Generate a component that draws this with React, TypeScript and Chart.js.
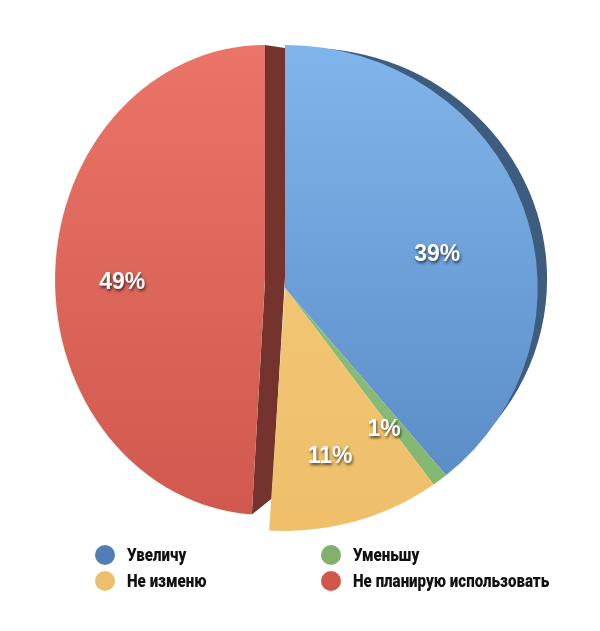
import React, { useEffect, useRef } from "react";
import { Chart, registerables } from "chart.js";

Chart.register(...registerables);

const categories = ["Увеличу", "Уменьшу", "Не изменю", "Не планирую использовать"];
const values = [39, 1, 11, 49];
const pctLabels = ["39%", "1%", "11%", "49%"];

// styling
const faceTop = ["#80b5eb", "#93c583", "#f5cb7c", "#ea7468"];
const faceBottom = ["#5687c2", "#82b56f", "#efbf6a", "#d0584e"];
const legendColors = ["#4f7fb5", "#82b06f", "#ecc06a", "#d1574c"];
const explodeX = [0, 0, 0, -20];
const explodeY = [0, 0, 0, -8];
const scaleX = [1.04, 1.04, 1.04, 0.864];
const scaleY = [1, 1, 1, 0.967];
const labelShiftY = [19, 19, 19, 8];
const RIM_COLOR = "#3d5c7e";
const SIDE_COLOR = "#74342d";

function geom(arc: any, i: number) {
  const p = arc.getProps(["x", "y", "startAngle", "endAngle", "outerRadius"], true);
  const px = p.x + explodeX[i];
  const py = p.y + explodeY[i];
  const sx = scaleX[i];
  const sy = scaleY[i];
  const toScreen = (x: number, y: number) => [px + sx * (x - p.x), py + sy * (y - p.y)];
  return { ...p, px, py, sx, sy, toScreen };
}

const pieDrawPlugin = {
  id: "pieDraw",
  beforeDatasetDraw(chart: any, args: any) {
    if (args.index !== 0) return;
    const ctx = chart.ctx;
    const meta = chart.getDatasetMeta(0);
    const arcs = meta.data;
    const gs = arcs.map((a: any, i: number) => geom(a, i));

    const applyT = (g: any) => {
      ctx.translate(g.px, g.py);
      ctx.scale(g.sx, g.sy);
      ctx.translate(-g.x, -g.y);
    };

    // blue rim (3D thickness)
    {
      const g = gs[0];
      ctx.save();
      applyT(g);
      const cx = g.x + 21;
      const cy = g.y - 9;
      ctx.beginPath();
      ctx.moveTo(cx, cy);
      ctx.arc(cx, cy, g.outerRadius - 12, g.startAngle, g.endAngle);
      ctx.closePath();
      ctx.fillStyle = RIM_COLOR;
      ctx.fill();
      ctx.restore();
    }

    // red side face
    {
      const g = gs[3];
      const A = g.toScreen(g.x + g.outerRadius * Math.cos(g.endAngle), g.y + g.outerRadius * Math.sin(g.endAngle));
      const C = g.toScreen(g.x, g.y);
      const B = g.toScreen(g.x + g.outerRadius * Math.cos(g.startAngle), g.y + g.outerRadius * Math.sin(g.startAngle));
      ctx.save();
      ctx.beginPath();
      ctx.moveTo(A[0], A[1]);
      ctx.lineTo(C[0], C[1]);
      ctx.lineTo(B[0], B[1]);
      ctx.lineTo(B[0] + 20, B[1] - 16);
      ctx.lineTo(C[0] + 20, C[1] - 3);
      ctx.lineTo(A[0] + 20, A[1] + 3);
      ctx.closePath();
      ctx.fillStyle = SIDE_COLOR;
      ctx.fill();
      ctx.restore();
    }

    // faces
    arcs.forEach((arc: any, i: number) => {
      ctx.save();
      applyT(gs[i]);
      arc.draw(ctx);
      ctx.restore();
    });

    // percentage labels
    ctx.save();
    ctx.font = "bold 23px 'Liberation Sans', Arial, sans-serif";
    ctx.textAlign = "center";
    ctx.textBaseline = "middle";
    ctx.fillStyle = "#ffffff";
    ctx.shadowColor = "rgba(0,0,0,0.65)";
    ctx.shadowBlur = 3;
    ctx.shadowOffsetX = 1;
    ctx.shadowOffsetY = 2;
    gs.forEach((g: any, i: number) => {
      const mid = (g.startAngle + g.endAngle) / 2;
      const r = g.outerRadius * (i === 3 ? 0.68 : 0.64);
      const [x, y] = g.toScreen(g.x + Math.cos(mid) * r, g.y + Math.sin(mid) * r);
      ctx.fillText(pctLabels[i], x, y + labelShiftY[i]);
    });
    ctx.restore();
    return false;
  },
};

const legendPlugin = {
  id: "customLegend",
  afterDraw(chart: any) {
    const ctx = chart.ctx;
    const colX = [97, 323];
    const rowY = [547, 573];
    ctx.save();
    ctx.font = "900 18px Roboto, 'Liberation Sans', sans-serif";
    ctx.textBaseline = "middle";
    ctx.textAlign = "left";
    categories.forEach((c, i) => {
      const col = i % 2;
      const row = Math.floor(i / 2);
      const x = colX[col];
      const y = rowY[row];
      ctx.beginPath();
      ctx.arc(x, y, 10, 0, Math.PI * 2);
      ctx.fillStyle = legendColors[i];
      ctx.fill();
      ctx.save();
      ctx.translate(x + 22, y + 1);
      ctx.scale(0.84, 1);
      ctx.fillStyle = "#111111";
      ctx.fillText(c, 0, 0);
      ctx.restore();
    });
    ctx.restore();
  },
};

export default function App() {
  const ref = useRef<HTMLCanvasElement | null>(null);
  useEffect(() => {
    if (!ref.current) return;
    const chart = new Chart(ref.current, {
      type: "pie",
      data: {
        labels: categories,
        datasets: [
          {
            data: values,
            backgroundColor: (c: any) => {
              const i = c.dataIndex;
              const ch = c.chart;
              const area = ch.chartArea;
              if (!area) return faceTop[i];
              const g = ch.ctx.createLinearGradient(0, 40, 0, 530);
              g.addColorStop(0, faceTop[i]);
              g.addColorStop(1, faceBottom[i]);
              return g;
            },
            borderWidth: 0,
          },
        ],
      },
      options: {
        animation: false,
        responsive: true,
        maintainAspectRatio: false,
        radius: 243,
        layout: { padding: { left: 0, right: 30, top: 0, bottom: 55 } },
        plugins: {
          legend: { display: false },
          tooltip: { enabled: false },
        },
      },
      plugins: [pieDrawPlugin, legendPlugin],
    });
    return () => chart.destroy();
  }, []);
  return (
    <div style={{ width: 584, height: 615, position: "relative" }}>
      <canvas ref={ref} />
    </div>
  );
}
